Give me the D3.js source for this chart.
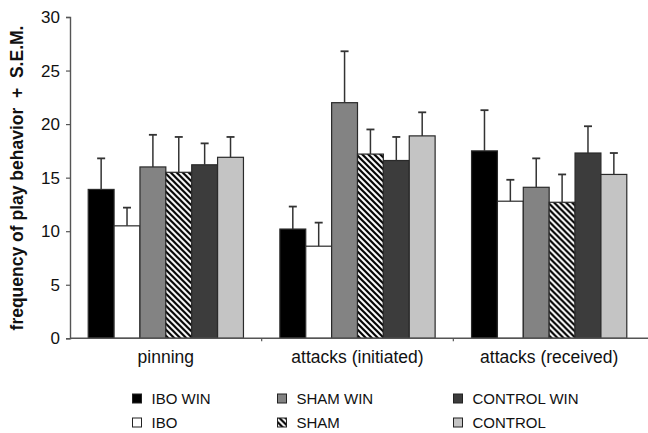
<!DOCTYPE html>
<html>
<head>
<meta charset="utf-8">
<script src="https://cdn.jsdelivr.net/npm/d3@7"></script>
<style>
  html, body { margin: 0; padding: 0; background: #fff; }
  svg { display: block; font-family: Arial, "Liberation Sans", sans-serif; }
</style>
</head>
<body>
<svg id="chart" width="648" height="433"></svg>
<script>
// Behaviour categories along the x axis
const categories = ["pinning", "attacks (initiated)", "attacks (received)"];
// Experimental groups, in bar order within each category
const groups = ["IBO WIN", "IBO", "SHAM WIN", "SHAM", "CONTROL WIN", "CONTROL"];
// Mean frequency per group, one array per category
const pinningMean   = [13.9, 10.5, 16.0, 15.5, 16.2, 16.9];
const initiatedMean = [10.2, 8.6, 22.0, 17.2, 16.6, 18.9];
const receivedMean  = [17.5, 12.8, 14.1, 12.7, 17.3, 15.3];
// Standard error of the mean (drawn as upper error bars)
const pinningSem    = [2.9, 1.7, 3.0, 3.3, 2.0, 1.9];
const initiatedSem  = [2.1, 2.2, 4.8, 2.3, 2.2, 2.2];
const receivedSem   = [3.8, 2.0, 2.7, 2.6, 2.5, 2.0];
const yTicks = [0, 5, 10, 15, 20, 25, 30];

const means = [pinningMean, initiatedMean, receivedMean];
const sems = [pinningSem, initiatedSem, receivedSem];

const fills = {
  "IBO WIN": "#000000",
  "IBO": "#ffffff",
  "SHAM WIN": "#838383",
  "SHAM": "url(#hatch)",
  "CONTROL WIN": "#3c3c3c",
  "CONTROL": "#c4c4c4"
};

const svg = d3.select("#chart");
const margin = { left: 70, right: 3, top: 17, bottom: 95 };
const W = 648, H = 433;

// Diagonal stripe fill for the SHAM group
const defs = svg.append("defs");
const pat = defs.append("pattern")
  .attr("id", "hatch")
  .attr("patternUnits", "userSpaceOnUse")
  .attr("width", 6).attr("height", 6);
pat.append("rect").attr("width", 6).attr("height", 6).attr("fill", "#fff");
pat.append("path")
  .attr("d", "M-1,-1 L7,7 M-1,5 L1,7 M5,-1 L7,1")
  .attr("stroke", "#000").attr("stroke-width", 2.2);

const x0 = d3.scaleBand()
  .domain(categories)
  .range([margin.left, W - margin.right])
  .paddingInner(0.19)
  .paddingOuter(0.095);
const x1 = d3.scaleBand()
  .domain(groups)
  .range([0, x0.bandwidth()]);
const y = d3.scaleLinear()
  .domain([0, 30])
  .range([H - margin.bottom + 0.3, margin.top]);

// Bars
const rows = categories.map((c, ci) => ({
  cat: c,
  items: groups.map((g, gi) => ({ g, v: means[ci][gi], e: sems[ci][gi] }))
}));

const cg = svg.append("g").selectAll("g").data(rows).join("g")
  .attr("transform", d => `translate(${x0(d.cat)},0)`);

cg.selectAll("rect").data(d => d.items).join("rect")
  .attr("x", d => x1(d.g))
  .attr("y", d => y(d.v))
  .attr("width", x1.bandwidth())
  .attr("height", d => y(0) - y(d.v))
  .attr("fill", d => fills[d.g])
  .attr("stroke", "#2a2a2a")
  .attr("stroke-width", 1.2);

// Upper error bars
const eb = cg.selectAll("g.err").data(d => d.items).join("g").attr("class", "err");
eb.append("line")
  .attr("x1", d => x1(d.g) + x1.bandwidth() / 2)
  .attr("x2", d => x1(d.g) + x1.bandwidth() / 2)
  .attr("y1", d => y(d.v))
  .attr("y2", d => y(d.v + d.e))
  .attr("stroke", "#333").attr("stroke-width", 1.5);
eb.append("line")
  .attr("x1", d => x1(d.g) + x1.bandwidth() / 2 - 4)
  .attr("x2", d => x1(d.g) + x1.bandwidth() / 2 + 4)
  .attr("y1", d => y(d.v + d.e))
  .attr("y2", d => y(d.v + d.e))
  .attr("stroke", "#333").attr("stroke-width", 1.8);

// Y axis
const yAxis = svg.append("g")
  .attr("transform", `translate(${margin.left},0)`)
  .call(d3.axisLeft(y).tickValues(yTicks).tickSize(4).tickPadding(6));
yAxis.select(".domain").attr("stroke", "#555").attr("stroke-width", 1.4);
yAxis.selectAll(".tick line").attr("stroke", "#555").attr("stroke-width", 1.2);
yAxis.selectAll(".tick text")
  .attr("font-size", 17).attr("fill", "#111")
  .attr("font-family", "Arial, 'Liberation Sans', sans-serif");

// X axis with ticks between categories
const step = x0.step();
const bounds = [1, 2].map(i => margin.left + i * step);
const xg = svg.append("g");
xg.append("line")
  .attr("x1", margin.left).attr("x2", W)
  .attr("y1", y(0)).attr("y2", y(0))
  .attr("stroke", "#555").attr("stroke-width", 1.4);
xg.selectAll("line.tk").data(bounds).join("line").attr("class", "tk")
  .attr("x1", d => d).attr("x2", d => d)
  .attr("y1", y(0)).attr("y2", y(0) + 3)
  .attr("stroke", "#555").attr("stroke-width", 1.2);
xg.selectAll("text").data(categories).join("text")
  .attr("x", d => x0(d) + x0.bandwidth() / 2)
  .attr("y", 362.5)
  .attr("text-anchor", "middle")
  .attr("font-size", 17.5).attr("fill", "#111")
  .text(d => d);

// Y axis title
svg.append("text")
  .attr("transform", `translate(23,${178}) rotate(-90)`)
  .attr("text-anchor", "middle")
  .attr("font-size", 17.5).attr("font-weight", "bold").attr("fill", "#111")
  .attr("xml:space", "preserve")
  .text("frequency of play behavior  +  S.E.M.");

// Legend: three columns, two rows
const legendCols = [132, 277, 453];
const legendRows = [403.5, 427.5];
const lg = svg.append("g").selectAll("g").data(groups).join("g")
  .attr("transform", (d, i) => `translate(${legendCols[Math.floor(i / 2)]},${legendRows[i % 2]})`);
lg.append("rect")
  .attr("x", 0.5).attr("y", -9.5)
  .attr("width", 9).attr("height", 9)
  .attr("fill", d => fills[d])
  .attr("stroke", "#222").attr("stroke-width", 1);
lg.append("text")
  .attr("x", 19.5).attr("y", 0)
  .attr("font-size", 15).attr("fill", "#111")
  .text(d => d);
</script>
</body>
</html>
